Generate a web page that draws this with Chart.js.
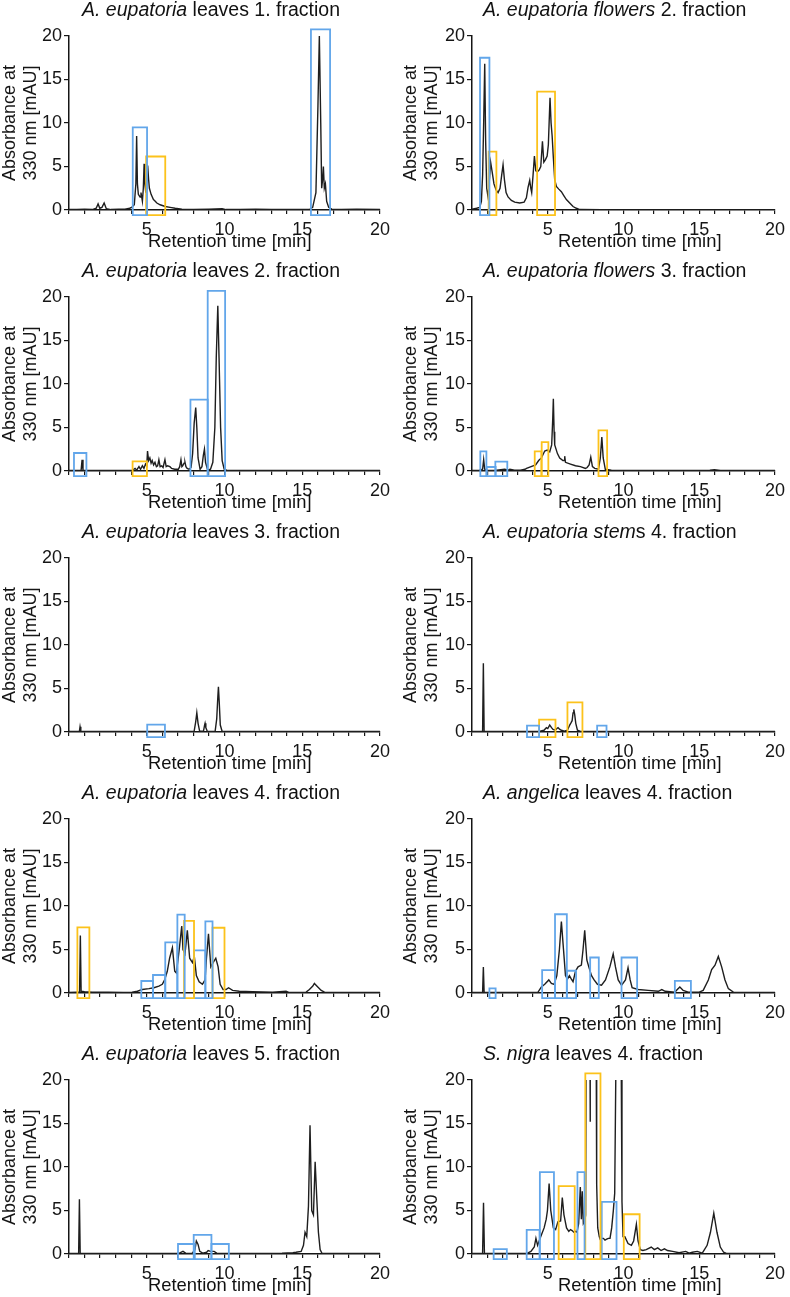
<!DOCTYPE html>
<html>
<head>
<meta charset="utf-8">
<script src="https://cdn.jsdelivr.net/npm/chart.js@4.4.1/dist/chart.umd.min.js"></script>
<style>
  html, body { margin: 0; padding: 0; background: #fff; }
  #wrap { position: relative; width: 790px; height: 1297px; overflow: hidden; font-family: "Liberation Sans", Arial, sans-serif; color: #111; }
  .panel { position: absolute; width: 395px; height: 261px; }
  .panel canvas { position: absolute; left: 0; top: 0; }
  .ttl { position: absolute; top: 0; font-size: 19.5px; line-height: 19px; white-space: nowrap; }
  .xt { position: absolute; top: 232px; font-size: 18.4px; line-height: 18px; white-space: nowrap; }
</style>
</head>
<body>
<div id="wrap"></div>
<script>
// ---------- DATA ----------
const titleItalic = ['A. eupatoria','A. eupatoria flowers','A. eupatoria','A. eupatoria flowers','A. eupatoria','A. eupatoria stem','A. eupatoria','A. angelica','A. eupatoria','S. nigra'];
const titleRest   = [' leaves 1. fraction',' 2. fraction',' leaves 2. fraction',' 3. fraction',' leaves 3. fraction','s 4. fraction',' leaves 4. fraction',' leaves 4. fraction',' leaves 5. fraction',' leaves 4. fraction'];
const yTitle = ['Absorbance at','330 nm [mAU]'];
const xTitle = 'Retention time [min]';
const yTicks = [0,5,10,15,20];
const xLabelTicks = [5,10,15,20];

// chromatograms: [retention time (min), absorbance (mAU)]
const leaves1 = [[0,0.05],[0.5,0.05],[1.0,0.1],[1.5,0.05],[1.75,0.2],[1.87,0.7],[1.98,0.2],[2.12,0.3],[2.26,0.8],[2.4,0.15],[2.7,0.05],[3.2,0.1],[3.6,0.1],[3.9,0.2],[4.03,0.3],[4.2,0.6],[4.3,3.0],[4.35,8.5],[4.4,3.0],[4.46,1.8],[4.57,1.5],[4.63,2.0],[4.72,1.0],[4.78,2.5],[4.83,5.3],[4.88,3.0],[4.94,2.0],[5.0,3.5],[5.06,5.1],[5.12,3.5],[5.17,2.5],[5.28,1.8],[5.43,1.2],[5.5,1.1],[5.65,0.8],[5.86,0.6],[6.19,0.4],[6.5,0.3],[6.83,0.2],[7.26,0.1],[8.0,0.05],[9.0,0.1],[9.85,0.15],[10.1,0.05],[11,0.05],[12,0.1],[13,0.05],[14,0.05],[15,0.05],[15.5,0.1],[15.67,0.3],[15.88,2.0],[16.01,12],[16.1,20],[16.19,10],[16.25,2.5],[16.31,3.5],[16.36,5.0],[16.42,2.5],[16.49,3.0],[16.57,1.0],[16.7,0.3],[16.9,0.1],[17.5,0.05],[18.5,0.1],[20,0.05]];
const flowers2 = [[0,0.1],[0.3,0.2],[0.51,0.3],[0.62,1.0],[0.70,4],[0.77,10],[0.84,16.8],[0.90,8],[0.97,2.5],[1.06,1.5],[1.15,3.5],[1.23,5.5],[1.32,4.5],[1.45,3.0],[1.59,2.3],[1.72,2.0],[1.85,2.5],[1.96,4.0],[2.05,5.2],[2.14,3.5],[2.25,2.0],[2.38,1.5],[2.6,1.1],[2.82,0.9],[3.15,0.8],[3.44,0.9],[3.59,1.4],[3.70,2.6],[3.81,3.4],[3.88,2.5],[3.94,2.0],[4.03,4.0],[4.12,6.2],[4.21,4.5],[4.32,4.4],[4.43,4.6],[4.54,5.0],[4.65,7.9],[4.74,5.5],[4.85,5.8],[4.96,6.2],[5.04,7.5],[5.15,12.9],[5.22,10],[5.29,8.5],[5.37,6],[5.46,3.5],[5.57,2.7],[5.73,2.4],[5.90,2.1],[6.08,1.6],[6.23,1.2],[6.45,0.8],[6.67,0.4],[6.89,0.2],[7.11,0.05],[10,0.02],[15,0.02],[20,0.02]];
const leaves2 = [[0,0.05],[0.5,0.05],[0.78,0.1],[0.84,1.3],[0.9,0.1],[1.5,0.05],[2.5,0.05],[3.5,0.05],[4.1,0.1],[4.25,0.3],[4.35,0.1],[4.5,0.5],[4.6,0.2],[4.72,0.6],[4.82,0.3],[4.92,0.8],[5.0,0.6],[5.05,2.3],[5.12,1.2],[5.2,1.5],[5.28,0.9],[5.35,1.2],[5.44,0.7],[5.53,1.0],[5.62,0.5],[5.7,0.6],[5.78,1.3],[5.86,0.5],[5.96,0.6],[6.05,0.4],[6.17,1.3],[6.25,0.5],[6.34,0.6],[6.49,0.5],[6.6,0.3],[6.8,0.2],[7.03,0.2],[7.12,0.5],[7.2,1.3],[7.26,0.5],[7.31,0.6],[7.4,0.9],[7.46,1.0],[7.52,0.5],[7.6,0.3],[7.72,0.2],[7.85,0.4],[7.95,2.0],[8.05,5.5],[8.15,7.3],[8.22,5.0],[8.3,1.5],[8.43,0.2],[8.55,0.5],[8.64,1.8],[8.71,2.5],[8.78,1.0],[8.92,0.1],[9.1,0.2],[9.25,1.0],[9.38,5.0],[9.47,13],[9.57,19.0],[9.65,13],[9.75,5],[9.85,1.2],[9.98,0.2],[10.2,0.05],[12,0.05],[15,0.05],[20,0.05]];
const flowers3 = [[0,0.05],[0.5,0.1],[0.7,0.2],[0.77,1.3],[0.84,0.2],[1.0,0.1],[1.5,0.05],[2.16,0.2],[2.4,0.1],[2.5,0.2],[2.8,0.1],[3.2,0.1],[3.5,0.2],[3.6,0.3],[3.9,0.5],[4.2,0.7],[4.4,1.2],[4.58,1.5],[4.8,2.3],[4.97,2.4],[5.13,2.2],[5.26,3.0],[5.33,6],[5.37,8.3],[5.42,4.5],[5.46,3.0],[5.64,2.0],[5.79,1.5],[6.0,1.2],[6.08,1.2],[6.12,1.7],[6.17,1.0],[6.5,0.8],[6.83,0.6],[7.16,0.5],[7.49,0.3],[7.6,0.4],[7.73,0.7],[7.84,1.6],[7.95,0.5],[8.1,0.3],[8.35,0.2],[8.47,1.5],[8.57,3.9],[8.66,1.5],[8.8,0.2],[9.2,0.1],[10,0.05],[12,0.05],[14,0.05],[15.7,0.1],[16.0,0.15],[16.4,0.05],[20,0.05]];
const leaves3 = [[0,0.05],[0.6,0.05],[0.67,0.1],[0.71,0.6],[0.76,0.05],[2,0.05],[4,0.05],[6,0.05],[7.5,0.05],[8.05,0.1],[8.15,1.2],[8.22,2.2],[8.3,1.0],[8.4,0.1],[8.65,0.1],[8.72,0.8],[8.75,1.0],[8.8,0.5],[8.9,0.05],[9.4,0.1],[9.5,1.5],[9.57,4.0],[9.61,5.2],[9.66,3.5],[9.73,0.8],[9.85,0.05],[12,0.05],[16,0.05],[20,0.05]];
const stems4 = [[0,0.05],[0.5,0.05],[0.7,0.1],[0.75,7.9],[0.8,0.1],[1.2,0.05],[2,0.05],[3,0.05],[4,0.05],[4.5,0.1],[4.75,0.2],[4.91,0.5],[5.0,0.4],[5.13,0.8],[5.25,0.5],[5.35,0.3],[5.5,0.2],[5.6,0.4],[5.68,0.5],[5.8,0.3],[5.9,0.2],[6.1,0.1],[6.3,0.2],[6.45,0.8],[6.55,1.1],[6.61,1.3],[6.67,2.2],[6.72,2.6],[6.78,2.0],[6.85,1.0],[6.96,0.2],[7.2,0.05],[9,0.05],[12,0.05],[20,0.05]];
const leaves4 = [[0,0.05],[0.5,0.1],[0.68,0.1],[0.73,6.6],[0.78,0.2],[1.0,0.15],[1.5,0.1],[2.5,0.1],[3.5,0.05],[4.06,0.1],[4.4,0.2],[4.71,0.4],[5.14,0.5],[5.46,0.6],[5.78,0.8],[6.0,1.0],[6.15,1.5],[6.32,2.5],[6.47,4.0],[6.65,5.2],[6.8,2.5],[6.9,2.3],[7.01,3.8],[7.12,5.5],[7.25,7.7],[7.33,5.0],[7.46,4.5],[7.61,7.2],[7.76,4.0],[7.94,3.5],[8.06,4.2],[8.19,2.0],[8.37,1.3],[8.58,1.0],[8.75,1.5],[8.84,4.0],[8.97,6.8],[9.12,3.0],[9.27,3.5],[9.44,4.0],[9.59,3.0],[9.72,1.0],[9.91,0.4],[10.1,0.4],[10.26,0.6],[10.52,0.3],[10.95,0.2],[11.8,0.15],[13.1,0.1],[13.96,0.2],[14.17,0.05],[15.0,0.05],[15.25,0.1],[15.46,0.4],[15.68,0.8],[15.78,1.1],[16.0,0.7],[16.22,0.3],[16.43,0.1],[17,0.05],[20,0.05]];
const angelica4 = [[0,0.05],[0.6,0.05],[0.7,0.1],[0.75,3.0],[0.8,0.1],[1.2,0.05],[2,0.05],[3,0.05],[4,0.05],[4.36,0.1],[4.58,0.7],[4.8,1.0],[5.07,1.5],[5.24,1.1],[5.42,1.0],[5.6,2.0],[5.77,5.0],[5.9,8.2],[6.04,5.0],[6.17,2.0],[6.3,1.6],[6.43,2.0],[6.56,1.6],[6.67,1.3],[6.83,2.5],[7.0,3.0],[7.22,3.2],[7.33,5],[7.44,7.2],[7.58,3.8],[7.71,3.0],[7.89,2.0],[8.06,1.5],[8.28,1.0],[8.55,0.9],[8.81,1.5],[9.1,3.0],[9.32,4.5],[9.47,3.0],[9.65,1.5],[9.87,0.9],[10.13,1.5],[10.3,2.9],[10.44,1.5],[10.57,0.6],[10.97,0.4],[11.63,0.3],[12.3,0.2],[12.53,0.4],[12.75,0.2],[13.4,0.1],[13.55,0.4],[13.72,0.7],[13.94,0.3],[14.27,0.1],[15.0,0.1],[15.26,0.3],[15.6,1.5],[15.82,2.7],[16.04,3.2],[16.26,4.2],[16.48,3.0],[16.7,1.5],[16.92,0.5],[17.25,0.1],[18,0.05],[20,0.05]];
const leaves5 = [[0,0.05],[0.55,0.05],[0.62,0.1],[0.67,6.3],[0.72,0.1],[1.2,0.05],[3,0.05],[5,0.05],[6.5,0.05],[7.1,0.1],[7.33,0.3],[7.5,0.1],[7.9,0.05],[8.1,0.5],[8.19,1.5],[8.3,1.1],[8.41,0.3],[8.6,0.1],[8.85,0.2],[8.95,0.4],[9.1,0.3],[9.33,0.3],[9.5,0.1],[9.7,0.05],[12,0.05],[13.7,0.1],[14.4,0.15],[14.6,0.2],[14.93,0.3],[15.08,1.0],[15.18,2.5],[15.29,2.0],[15.4,5.5],[15.5,14.8],[15.61,5.0],[15.72,4.5],[15.83,10.6],[15.94,6.2],[16.04,2.5],[16.15,0.5],[16.26,0.1],[17,0.05],[20,0.05]];
const nigra4 = [[0,0.05],[0.6,0.05],[0.7,0.1],[0.76,5.9],[0.82,0.1],[1.2,0.05],[2,0.05],[3,0.05],[3.67,0.1],[3.89,0.3],[4.11,0.8],[4.22,1.8],[4.33,1.0],[4.54,2.0],[4.76,3.0],[4.9,4.0],[4.98,5.0],[5.09,8.1],[5.2,5.0],[5.37,3.0],[5.52,2.8],[5.67,3.7],[5.85,3.8],[5.96,6.5],[6.07,4.5],[6.24,3.0],[6.39,2.6],[6.5,2.8],[6.61,2.7],[6.72,2.5],[6.83,2.6],[6.93,2.5],[7.04,3.5],[7.15,7.7],[7.22,4.0],[7.28,7.2],[7.35,3.5],[7.45,3.8],[7.5,4.5],[7.53,22],[7.79,22],[7.8,15.2],[7.81,22],[8.2,22],[8.23,8],[8.3,3.0],[8.4,2.0],[8.46,1.7],[8.56,1.8],[8.67,1.8],[8.78,1.6],[8.89,1.7],[9.0,1.8],[9.11,1.8],[9.22,3.0],[9.33,5.0],[9.42,7.0],[9.5,22],[9.85,22],[9.9,6],[9.97,2.0],[10.09,2.0],[10.3,1.2],[10.52,1.0],[10.67,1.5],[10.85,3.4],[10.96,1.5],[11.11,0.5],[11.28,0.4],[11.5,0.5],[11.83,0.8],[12.04,0.5],[12.26,0.7],[12.48,0.4],[12.7,0.6],[12.91,0.4],[13.24,0.3],[13.67,0.15],[14.11,0.3],[14.33,0.1],[14.54,0.2],[14.87,0.3],[15.2,0.1],[15.52,1.0],[15.74,2.5],[15.96,4.7],[16.17,2.5],[16.39,0.8],[16.61,0.2],[16.83,0.05],[18,0.05],[20,0.05]];

// collected fraction windows: [kind ('b' blue / 'y' yellow), start (min), end (min), top (mAU)]
const boxes1 = [['b',4.1,5.02,9.5],['y',4.96,6.19,6.15],['b',15.56,16.79,20.77]];
const boxes2 = [['b',0.53,1.15,17.5],['y',1.10,1.61,6.7],['y',4.30,5.48,13.6]];
const boxes3 = [['b',0.32,1.12,2.07],['y',4.09,5.01,1.1],['b',7.81,8.92,8.2],['b',8.92,10.04,20.7]];
const boxes4 = [['b',0.55,0.95,2.26],['b',0.97,1.56,0.46],['b',1.54,2.33,1.07],['y',4.14,4.58,2.26],['y',4.6,5.04,3.33],['y',8.35,8.92,4.67]];
const boxes5 = [['b',5.03,6.17,0.84]];
const boxes6 = [['b',3.63,4.43,0.73],['y',4.43,5.51,1.42],['y',6.3,7.29,3.41],['b',8.26,8.88,0.73]];
const boxes7 = [['y',0.54,1.31,7.55],['b',4.65,5.4,1.38],['b',5.4,6.19,2.07],['b',6.19,6.97,5.82],['b',6.97,7.44,9.0],['y',7.4,8.04,8.28],['b',8.04,8.77,4.9],['b',8.77,9.23,8.24],['y',9.23,10.0,7.5]];
const boxes8 = [['b',1.15,1.56,0.53],['b',4.63,5.48,2.63],['b',5.48,6.26,9.05],['b',6.26,6.87,2.56],['b',7.8,8.37,4.08],['b',9.87,10.9,4.08],['b',13.39,14.45,1.4]];
const boxes9 = [['b',7.01,8.09,1.15],['b',8.02,9.16,2.2],['b',9.16,10.28,1.15]];
const boxes10 = [['b',1.43,2.3,0.57],['b',3.61,4.46,2.78],['b',4.48,5.41,9.4],['y',5.72,6.78,7.8],['b',6.96,7.43,9.4],['y',7.48,8.48,20.76],['b',8.565,9.54,5.98],['y',10.02,11.065,4.57]];

const traces = [leaves1, flowers2, leaves2, flowers3, leaves3, stems4, leaves4, angelica4, leaves5, nigra4];
const boxSets = [boxes1, boxes2, boxes3, boxes4, boxes5, boxes6, boxes7, boxes8, boxes9, boxes10];

// ---------- RENDER ----------
const BOX_FLOOR = -0.6;
const BOX_COLOR = { b: '#62a6ea', y: '#fcc21b' };
const INK = '#151515';
const FONT = '"Liberation Sans", Arial, sans-serif';
const colCfg = [
  { padL: 0, yW: 69, padR: 15, tX: 82, xtX: 148 },
  { padL: 6, yW: 71, padR: 12, tX: 88, xtX: 163 }
];

const wrap = document.getElementById('wrap');
traces.forEach((trace, i) => {
  const col = i % 2, row = Math.floor(i / 2);
  const cfg = colCfg[col];
  const panel = document.createElement('div');
  panel.className = 'panel';
  panel.style.left = (col * 395) + 'px';
  panel.style.top = (row * 261) + 'px';
  const cv = document.createElement('canvas');
  cv.width = 395; cv.height = 261;
  cv.style.width = '395px'; cv.style.height = '261px';
  panel.appendChild(cv);
  const t = document.createElement('div');
  t.className = 'ttl';
  t.style.left = cfg.tX + 'px';
  const it = document.createElement('i'); it.textContent = titleItalic[i];
  t.appendChild(it); t.appendChild(document.createTextNode(titleRest[i]));
  panel.appendChild(t);
  const xt = document.createElement('div');
  xt.className = 'xt';
  xt.style.left = cfg.xtX + 'px';
  xt.textContent = xTitle;
  panel.appendChild(xt);
  wrap.appendChild(panel);

  const datasets = [{
    data: trace.map(p => ({ x: p[0], y: p[1] })),
    borderColor: '#1e1e1e', borderWidth: 1.4, pointRadius: 0, tension: 0, fill: false, order: 2
  }];
  boxSets[i].forEach(b => {
    datasets.push({
      data: [{x:b[1],y:BOX_FLOOR},{x:b[1],y:b[3]},{x:b[2],y:b[3]},{x:b[2],y:BOX_FLOOR},{x:b[1],y:BOX_FLOOR}],
      borderColor: BOX_COLOR[b[0]], borderWidth: 1.8, pointRadius: 0, tension: 0, fill: false,
      clip: false, order: 1, borderCapStyle: 'square', borderJoinStyle: 'miter'
    });
  });

  new Chart(cv, {
    type: 'line',
    data: { datasets },
    options: {
      responsive: false, animation: false, devicePixelRatio: 1, events: [],
      layout: { padding: { left: cfg.padL, right: cfg.padR, top: 36, bottom: 0 } },
      plugins: { legend: { display: false }, tooltip: { enabled: false }, title: { display: false } },
      scales: {
        x: {
          type: 'linear', min: 0, max: 20,
          afterFit: s => { s.height = 51; },
          ticks: {
            stepSize: 1, maxTicksLimit: 30, autoSkip: false, maxRotation: 0, padding: 5,
            color: INK, font: { family: FONT, size: 18 },
            callback: v => xLabelTicks.includes(v) ? String(v) : ''
          },
          grid: { drawOnChartArea: false, drawTicks: true, tickLength: 4, color: INK, lineWidth: 1.2 },
          border: { display: true, color: INK, width: 1.5 }
        },
        y: {
          min: 0, max: 20,
          afterFit: s => { s.width = cfg.yW; },
          afterBuildTicks: s => { s.ticks = yTicks.map(v => ({ value: v })); },
          ticks: { padding: 2, color: INK, font: { family: FONT, size: 18 } },
          grid: { drawOnChartArea: false, drawTicks: true, tickLength: 5, color: INK, lineWidth: 1.2 },
          border: { display: true, color: INK, width: 1.5 },
          title: { display: true, text: yTitle, color: INK, font: { family: FONT, size: 18, lineHeight: 1.15 }, padding: { top: 0, bottom: 0 } }
        }
      }
    }
  });
});
</script>
</body>
</html>
